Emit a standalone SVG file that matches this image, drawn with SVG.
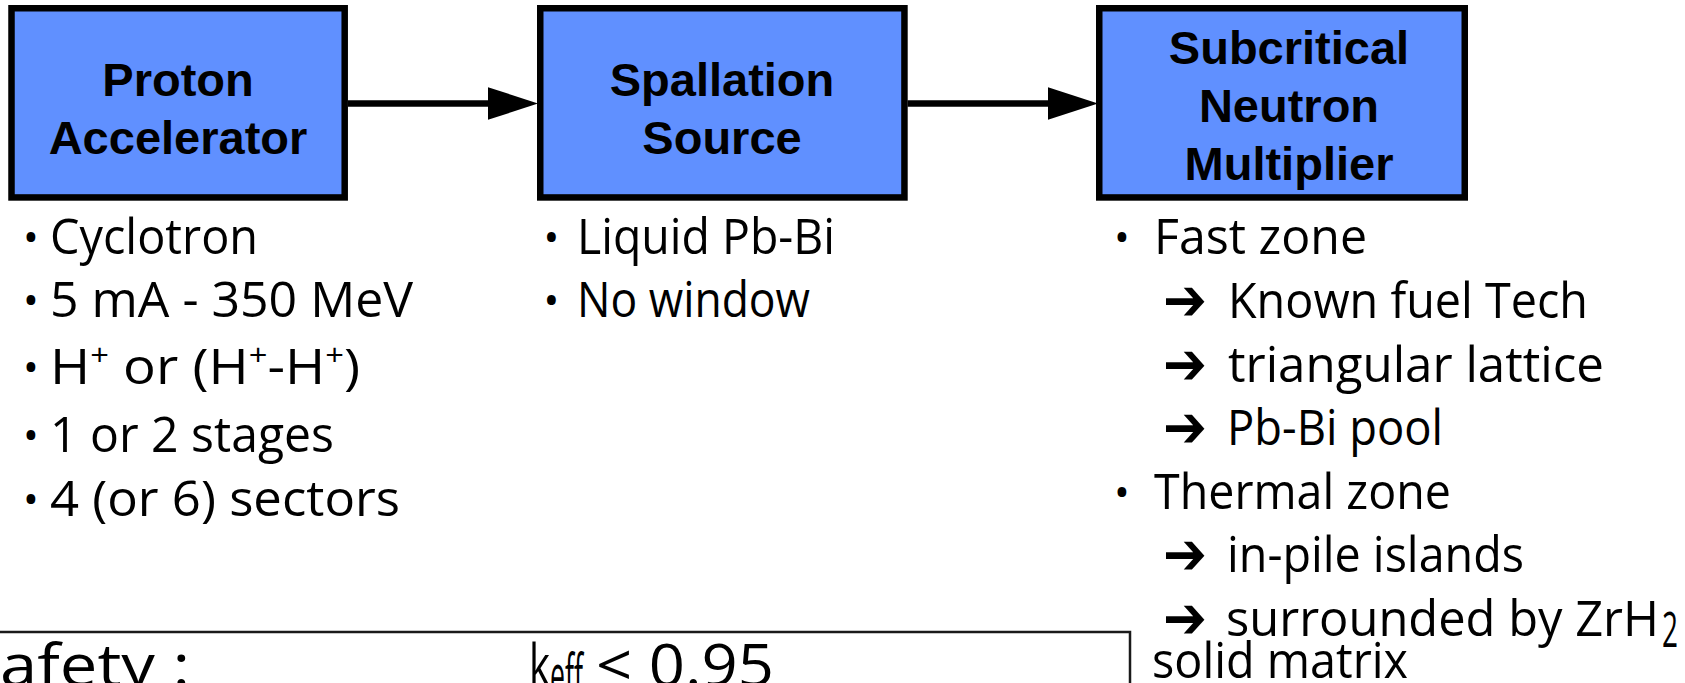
<svg xmlns="http://www.w3.org/2000/svg" width="1685" height="683" viewBox="0 0 1685 683">
  <defs>
    <style>
      .box { fill: #6090FF; stroke: #000; stroke-width: 6.5; }
      .title { font-family: "Liberation Sans", Arial, sans-serif; font-weight: bold; font-size: 47px; fill: #000; text-anchor: middle; }
      .body { font-family: "Open Sans", "Noto Sans", sans-serif; font-size: 50px; fill: #000; }
      .bullet { font-family: "Open Sans", "Noto Sans", sans-serif; font-size: 42px; fill: #000; text-anchor: middle; }
      .pointer { font-family: "DejaVu Sans", sans-serif; font-size: 58px; fill: #000; }
      .link { stroke: #000; stroke-width: 6.5; fill: none; }
      .frame { fill: none; stroke: #1a1a1a; stroke-width: 2.5; }
      .big { font-family: "Open Sans", "Noto Sans", sans-serif; font-size: 58px; fill: #000; }
    </style>
    <marker id="head" markerUnits="userSpaceOnUse" viewBox="0 0 50 32.6" markerWidth="50" markerHeight="32.6" refX="0" refY="16.3" orient="auto">
      <path d="M0,0 L50,16.3 L0,32.6 z" fill="#000"/>
    </marker>
  </defs>

  <!-- flow connectors -->
  <g id="connectors">
    <path class="link" d="M348,103.5 H488" marker-end="url(#head)"/>
    <path class="link" d="M907.5,103.5 H1048" marker-end="url(#head)"/>
  </g>

  <!-- stage 1 -->
  <g id="node-accelerator">
    <rect class="box" x="11.5" y="8.25" width="333.2" height="189.2"/>
    <text class="title" x="178" y="96">Proton</text>
    <text class="title" x="178" y="154">Accelerator</text>
  </g>

  <!-- stage 2 -->
  <g id="node-spallation">
    <rect class="box" x="540.25" y="8.25" width="364.2" height="189.2"/>
    <text class="title" x="722" y="96">Spallation</text>
    <text class="title" x="722" y="154">Source</text>
  </g>

  <!-- stage 3 -->
  <g id="node-multiplier">
    <rect class="box" x="1099.25" y="8.25" width="365.5" height="189.2"/>
    <text class="title" x="1289" y="64">Subcritical</text>
    <text class="title" x="1289" y="122">Neutron</text>
    <text class="title" x="1289" y="180">Multiplier</text>
  </g>

  <!-- accelerator features -->
  <g id="notes-accelerator">
    <text class="bullet" x="31" y="252">•</text>
    <text class="body" x="50" y="254" textLength="208" lengthAdjust="spacingAndGlyphs">Cyclotron</text>
    <text class="bullet" x="31" y="315">•</text>
    <text class="body" x="50" y="317" textLength="363" lengthAdjust="spacingAndGlyphs">5 mA - 350 MeV</text>
    <text class="bullet" x="31" y="382">•</text>
    <text class="body" x="50" y="384" textLength="310" lengthAdjust="spacingAndGlyphs">H<tspan font-size="30" dy="-19">+</tspan><tspan dy="19"> or (H</tspan><tspan font-size="30" dy="-19">+</tspan><tspan dy="19">-H</tspan><tspan font-size="30" dy="-19">+</tspan><tspan dy="19">)</tspan></text>
    <text class="bullet" x="31" y="450">•</text>
    <text class="body" x="50" y="452" textLength="284" lengthAdjust="spacingAndGlyphs">1 or 2 stages</text>
    <text class="bullet" x="31" y="514">•</text>
    <text class="body" x="50" y="516" textLength="350" lengthAdjust="spacingAndGlyphs">4 (or 6) sectors</text>
  </g>

  <!-- target features -->
  <g id="notes-spallation">
    <text class="bullet" x="551.5" y="252">•</text>
    <text class="body" x="577" y="254" textLength="258" lengthAdjust="spacingAndGlyphs">Liquid Pb-Bi</text>
    <text class="bullet" x="551.5" y="315">•</text>
    <text class="body" x="577" y="317" textLength="233" lengthAdjust="spacingAndGlyphs">No window</text>
  </g>

  <!-- core features -->
  <g id="notes-multiplier">
    <text class="bullet" x="1122" y="252">•</text>
    <text class="body" x="1154" y="254" textLength="213" lengthAdjust="spacingAndGlyphs">Fast zone</text>
    <text class="pointer" x="1163" y="320" textLength="44" lengthAdjust="spacingAndGlyphs">➔</text>
    <text class="body" x="1228" y="318" textLength="360" lengthAdjust="spacingAndGlyphs">Known fuel Tech</text>
    <text class="pointer" x="1163" y="384" textLength="44" lengthAdjust="spacingAndGlyphs">➔</text>
    <text class="body" x="1228" y="382" textLength="376" lengthAdjust="spacingAndGlyphs">triangular lattice</text>
    <text class="pointer" x="1163" y="447" textLength="44" lengthAdjust="spacingAndGlyphs">➔</text>
    <text class="body" x="1227" y="445" textLength="216" lengthAdjust="spacingAndGlyphs">Pb-Bi pool</text>
    <text class="bullet" x="1122" y="507">•</text>
    <text class="body" x="1154" y="509" textLength="297" lengthAdjust="spacingAndGlyphs">Thermal zone</text>
    <text class="pointer" x="1163" y="574" textLength="44" lengthAdjust="spacingAndGlyphs">➔</text>
    <text class="body" x="1227" y="572" textLength="297" lengthAdjust="spacingAndGlyphs">in-pile islands</text>
    <text class="pointer" x="1163" y="638" textLength="44" lengthAdjust="spacingAndGlyphs">➔</text>
    <text class="body" x="1226" y="636" textLength="433" lengthAdjust="spacingAndGlyphs">surrounded by ZrH</text>
    <text class="body" x="1662" y="647" font-size="32" textLength="16" lengthAdjust="spacingAndGlyphs">2</text>
    <text class="body" x="1152" y="678" textLength="256" lengthAdjust="spacingAndGlyphs">solid matrix</text>
  </g>

  <!-- safety criterion panel -->
  <g id="safety-panel">
    <rect class="frame" x="-10" y="632" width="1140" height="100"/>
    <text class="big" x="0" y="686" textLength="190" lengthAdjust="spacingAndGlyphs">afety :</text>
    <text class="big" x="529" y="686" textLength="21" lengthAdjust="spacingAndGlyphs">k</text>
    <text class="big" x="550" y="696" font-size="34" textLength="33" lengthAdjust="spacingAndGlyphs">eff</text>
    <text class="big" x="596" y="686" textLength="178" lengthAdjust="spacingAndGlyphs">&lt; 0.95</text>
  </g>
</svg>
